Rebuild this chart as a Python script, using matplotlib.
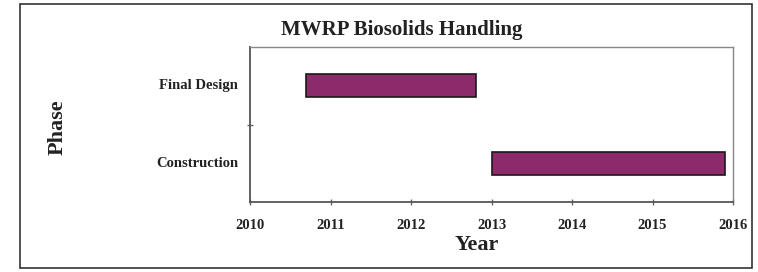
import matplotlib.pyplot as plt
from matplotlib.patches import Rectangle

# Schedule data (years)
phases = ['Construction', 'Final Design']
starts = [2013.0, 2010.69]
ends = [2015.9, 2012.81]
x_ticks = [2010, 2011, 2012, 2013, 2014, 2015, 2016]

plt.rcParams['font.family'] = ['Liberation Serif', 'DejaVu Serif']
plt.rcParams['font.weight'] = 'bold'

fig = plt.figure(figsize=(7.58, 2.72), dpi=100)
ax = fig.add_axes([250 / 758, 70 / 272, 483 / 758, 155 / 272])

# Outer chart-area frame
fig.patches.append(Rectangle((20 / 758, 4 / 272), 732 / 758, 264 / 272,
                             transform=fig.transFigure, fill=False,
                             edgecolor='#333333', linewidth=1.2))

for i, (p, s, e) in enumerate(zip(phases, starts, ends)):
    ax.barh(i + 0.5, e - s, left=s, height=0.3, color='#8d2a6c',
            edgecolor='#1a1a1a', linewidth=1.2)

ax.set_xlim(2010, 2016)
ax.set_ylim(0, 2)
ax.set_xticks(x_ticks)
ax.set_xticklabels([str(t) for t in x_ticks], fontsize=10.5, fontweight='bold')
ax.set_yticks([1])
ax.set_yticklabels([])
for i, p in enumerate(phases):
    ax.text(-0.025, (i + 0.5) / 2, p, transform=ax.transAxes, ha='right',
            va='center', fontsize=10.5, fontweight='bold', color='#222222')

ax.tick_params(axis='both', direction='inout', length=5, width=1,
               color='#666666', labelcolor='#222222', pad=10)
for side in ['left', 'bottom']:
    ax.spines[side].set_color('#555555')
    ax.spines[side].set_linewidth(1.3)
for side in ['top', 'right']:
    ax.spines[side].set_color('#888888')
    ax.spines[side].set_linewidth(1.0)

fig.text(402 / 758, 1 - 30 / 272, 'MWRP Biosolids Handling', ha='center',
         va='center', fontsize=15, fontweight='bold', color='#222222')
fig.text(477 / 758, 1 - 245 / 272, 'Year', ha='center', va='center',
         fontsize=16, fontweight='bold', color='#222222')
fig.text(58 / 758, 1 - 127 / 272, 'Phase', ha='center', va='center',
         rotation=90, fontsize=16, fontweight='bold', color='#222222')

fig.savefig('out.png', dpi=100)
